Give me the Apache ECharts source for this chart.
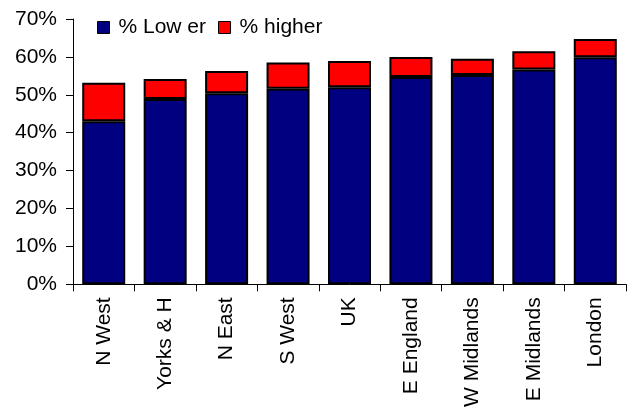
<!DOCTYPE html>
<html>
<head>
<meta charset="utf-8">
<script src="https://cdn.jsdelivr.net/npm/echarts@6/dist/echarts.min.js"></script>
<style>html,body{margin:0;padding:0;background:#fff;}#c{width:627px;height:410px;}</style>
</head>
<body>
<div id="c"></div>
<script>
var categories = ["N West", "Yorks & H", "N East", "S West", "UK", "E England", "W Midlands", "E Midlands", "London"];
var lowerValues = [43.0, 48.9, 50.4, 51.6, 52.0, 54.7, 55.2, 56.7, 59.9];
var higherValues = [10.2, 5.3, 5.9, 6.9, 6.9, 5.3, 4.3, 4.8, 4.8];
var seriesNames = ["% Low er", "% higher"];

var FONT = "'Liberation Sans', Arial, sans-serif";
var chart = echarts.init(document.getElementById('c'), null, {renderer: 'canvas'});
chart.setOption({
  animation: false,
  backgroundColor: '#ffffff',
  textStyle: {fontFamily: FONT},
  grid: {left: 73, right: 1, top: 19, bottom: 125, containLabel: false},
  legend: {
    left: 97, top: 17, padding: 0,
    itemWidth: 12, itemHeight: 12, itemGap: 12,
    icon: 'rect',
    data: seriesNames,
    itemStyle: {borderColor: '#000', borderWidth: 1},
    textStyle: {fontFamily: FONT, fontSize: 21, color: '#000', padding: [0, 0, 0, 4]}
  },
  xAxis: {
    type: 'category',
    data: categories,
    axisLine: {lineStyle: {color: '#000', width: 1}},
    axisTick: {show: true, length: 7, interval: 0, lineStyle: {color: '#000'}},
    axisLabel: {rotate: 90, interval: 0, margin: 13, fontSize: 21, color: '#000', fontFamily: FONT}
  },
  yAxis: {
    type: 'value',
    min: 0, max: 70, interval: 10,
    splitLine: {show: false},
    axisLine: {show: true, lineStyle: {color: '#000', width: 1}},
    axisTick: {show: true, length: 7, lineStyle: {color: '#000'}},
    axisLabel: {formatter: '{value}%', margin: 16, fontSize: 21, color: '#000', fontFamily: FONT}
  },
  series: [
    {
      name: seriesNames[0], type: 'bar', stack: 'total', data: lowerValues,
      barCategoryGap: '30%',
      itemStyle: {color: '#000080', borderColor: '#000', borderWidth: 2}
    },
    {
      name: seriesNames[1], type: 'bar', stack: 'total', data: higherValues,
      barCategoryGap: '30%',
      itemStyle: {color: '#ff0000', borderColor: '#000', borderWidth: 2}
    }
  ]
});
</script>
</body>
</html>
